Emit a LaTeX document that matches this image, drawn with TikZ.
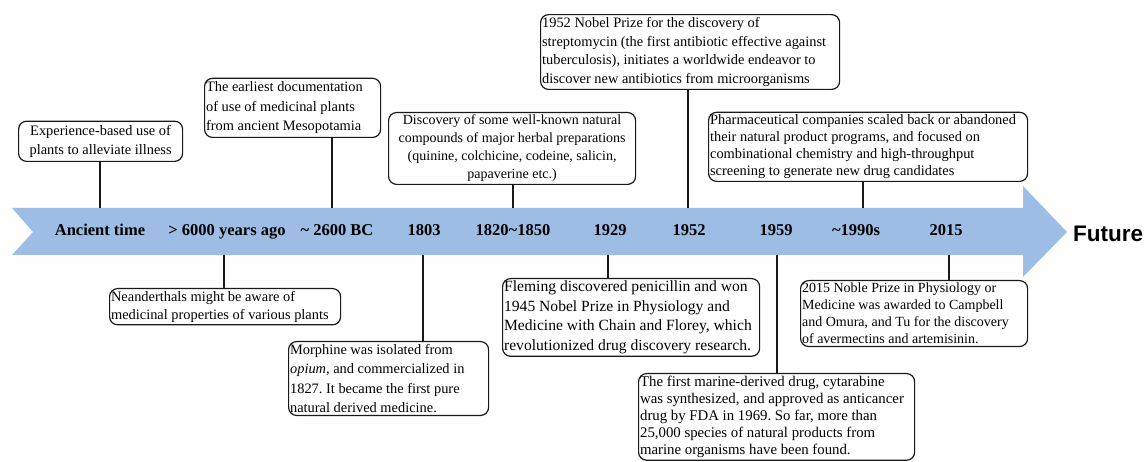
\documentclass[tikz,border=0pt]{standalone}
\usepackage{fontspec}
\setmainfont{Liberation Serif}
\newfontfamily\futurefont{Liberation Sans}
\definecolor{bandblue}{RGB}{158,189,228}
\frenchspacing
\tikzset{
  evbox/.style = {draw=black!90, fill=white, rounded corners=8pt, line width=1.2pt, inner xsep=1.5pt, inner ysep=2.5pt, align=flush left, font=\fontsize{14.4}{18}\selectfont},
  evbox_c/.style = {evbox, align=flush center},
  yearlbl/.style = {inner sep=0pt, anchor=base, font=\fontsize{16.5}{18}\selectfont\bfseries},
  tick/.style = {draw=black!90, line width=1.1pt},
}

\begin{document}
\begin{tikzpicture}[x=1pt, y=1pt]
  \useasboundingbox (0,0) rectangle (1147,462);
  % the time band
  \fill[bandblue] (12,254) -- (1023,254) -- (1023,276) -- (1067,230) -- (1023,185) -- (1023,207) -- (12,207) -- (33,230) -- cycle;

  % years
  \node [yearlbl] (ancient) at (100,226) {Ancient time};
  \node [yearlbl] (y6000) at (227,226) {> 6000 years ago};
  \node [yearlbl] (y2600) at (337,226) {\textasciitilde\ 2600 BC};
  \node [yearlbl] (y1803) at (424,226) {1803};
  \node [yearlbl] (y1820) at (513,226) {1820\textasciitilde1850};
  \node [yearlbl] (y1929) at (610,226) {1929};
  \node [yearlbl] (y1952) at (689,226) {1952};
  \node [yearlbl] (y1959) at (776,226) {1959};
  \node [yearlbl] (y1990) at (856,226) {\textasciitilde1990s};
  \node [yearlbl] (y2015) at (946,226) {2015};
  \node [inner sep=0pt, anchor=base west, font=\futurefont\fontsize{22.5}{26}\selectfont\bfseries] (future) at (1073,220) {Future};

  % tick points on the band
  \coordinate (k-anc) at (100,254);
  \coordinate (k-6000) at (224,207);
  \coordinate (k-2600) at (332,254);
  \coordinate (k-1803) at (423,207);
  \coordinate (k-1820) at (513,254);
  \coordinate (k-1929) at (608,207);
  \coordinate (k-1952) at (688,254);
  \coordinate (k-1959) at (777,207);
  \coordinate (k-1990) at (863,254);
  \coordinate (k-2015) at (949,207);

  % events above
  \node [evbox_c, anchor=south west, text width=161pt, inner ysep=4pt, font=\fontsize{14.4}{19}\selectfont] (exp) at (18,300)
    {Experience-based use of\\ plants to alleviate illness};
  \node [evbox, anchor=south west, text width=173pt, inner ysep=3.5pt, font=\fontsize{14.4}{19.5}\selectfont] (earliest) at (204,324)
    {The earliest documentation\\ of use of medicinal plants\\ from ancient Mesopotamia};
  \node [evbox_c, anchor=south west, text width=244pt, font=\fontsize{14}{18}\selectfont] (disc) at (388,277)
    {Discovery of some well-known natural\\ compounds of major herbal preparations\\ (quinine, colchicine, codeine, salicin,\\ papaverine etc.)};
  \node [evbox, anchor=south west, text width=296pt, inner ysep=3pt, font=\fontsize{14.4}{18.5}\selectfont] (nobel52) at (540,372)
    {1952 Nobel Prize for the discovery of\\ streptomycin (the first antibiotic effective against\\ tuberculosis), initiates a worldwide endeavor to\\ discover new antibiotics from microorganisms};
  \node [evbox, anchor=south west, text width=316pt, font=\fontsize{14.4}{17}\selectfont] (pharma) at (708,280)
    {Pharmaceutical companies scaled back or abandoned\\ their natural product programs, and focused on\\ combinational chemistry and high-throughput\\ screening to generate new drug candidates};

  % events below
  \node [evbox, anchor=north west, text width=228pt] (neander) at (109,174)
    {Neanderthals might be aware of\\ medicinal properties of various plants};
  \node [evbox, anchor=north west, text width=197pt, font=\fontsize{14.4}{19.5}\selectfont] (morph) at (288,121)
    {Morphine was isolated from\\ \textit{opium,} and commercialized in\\ 1827. It became the first pure\\ natural derived medicine.};
  \node [evbox, anchor=north west, text width=254pt, font=\fontsize{15.6}{19.5}\selectfont] (fleming) at (502,184)
    {Fleming discovered penicillin and won\\ 1945 Nobel Prize in Physiology and\\ Medicine with Chain and Florey, which\\ revolutionized drug discovery research.};
  \node [evbox, anchor=north west, text width=273pt, font=\fontsize{14.8}{17}\selectfont] (marine) at (638,89)
    {The first marine-derived drug, cytarabine\\ was synthesized, and approved as anticancer\\ drug by FDA in 1969. So far, more than\\ 25,000 species of natural products from\\ marine organisms have been found.};
  \node [evbox, anchor=north west, text width=224pt, font=\fontsize{14}{17}\selectfont] (nobel15) at (800,182)
    {2015 Noble Prize in Physiology or\\ Medicine was awarded to Campbell\\ and Omura, and Tu for the discovery\\ of avermectins and artemisinin.};

  % connectors
  \draw [tick] (k-anc) -- (k-anc |- exp.south);
  \draw [tick] (k-2600) -- (k-2600 |- earliest.south);
  \draw [tick] (k-1820) -- (k-1820 |- disc.south);
  \draw [tick] (k-1952) -- (k-1952 |- nobel52.south);
  \draw [tick] (k-1990) -- (k-1990 |- pharma.south);
  \draw [tick] (k-6000) -- (k-6000 |- neander.north);
  \draw [tick] (k-1803) -- (k-1803 |- morph.north);
  \draw [tick] (k-1929) -- (k-1929 |- fleming.north);
  \draw [tick] (k-1959) -- (k-1959 |- marine.north);
  \draw [tick] (k-2015) -- (k-2015 |- nobel15.north);
\end{tikzpicture}
\end{document}
